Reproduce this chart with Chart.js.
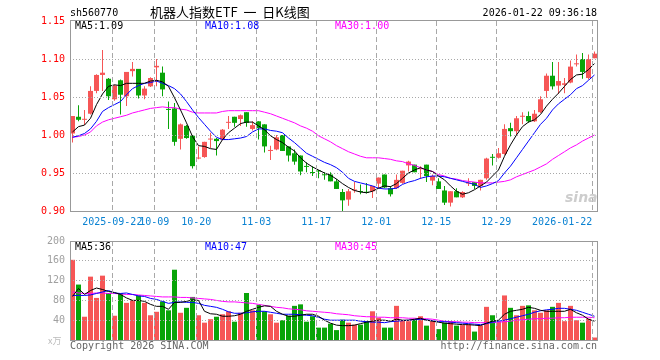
<!DOCTYPE html>
<html><head><meta charset="utf-8">
<script src="https://cdn.jsdelivr.net/npm/chart.js@4.4.1/dist/chart.umd.min.js"></script>
<style>
html,body{margin:0;padding:0;background:#fff;}
#wrap{position:relative;width:660px;height:360px;overflow:hidden;font-family:"DejaVu Sans Mono",monospace;font-size:10px;}
canvas{position:absolute;left:0;}
.t{position:absolute;white-space:nowrap;line-height:12px;}
</style></head><body>
<div id="wrap">
<canvas id="k" width="660" height="240" style="top:0"></canvas>
<canvas id="v" width="660" height="130" style="top:230px"></canvas>
<div class="t" style="left:70px;top:7px;color:#000">sh560770</div>
<div class="t" style="left:150px;top:4px;font-family:'Noto Sans CJK SC',sans-serif;font-size:13px;line-height:15px;color:#000">机器人指数ETF&nbsp;&nbsp;一&nbsp;&nbsp;日K线图</div>
<div class="t" style="right:63px;top:7px;color:#000">2026-01-22 09:36:18</div>
<div class="t" id="kma5" style="left:75px;top:20px;color:#000"></div>
<div class="t" id="kma10" style="left:205px;top:20px;color:#0000ff"></div>
<div class="t" id="kma30" style="left:335px;top:20px;color:#ff00ff"></div>
<div class="t" id="vma5" style="left:75px;top:241px;color:#000"></div>
<div class="t" id="vma10" style="left:205px;top:241px;color:#0000ff"></div>
<div class="t" id="vma30" style="left:335px;top:241px;color:#ff00ff"></div>
<div class="t" style="left:48px;top:335px;color:#bbb;font-size:9px;font-family:'Noto Sans CJK SC',sans-serif">x万</div>
<div class="t" style="left:70px;top:340px;color:#666">Copyright 2026 SINA.COM</div>
<div class="t" style="right:63px;top:340px;color:#666">http://finance.sina.com.cn</div>
<div class="t" style="left:565px;top:189px;color:#cdcdcd;font-family:'DejaVu Sans',sans-serif;font-style:italic;font-weight:bold;font-size:14px;line-height:16px">sina</div>
</div>
<script>
// ---- data ----
const dates = ['2025-09-11','2025-09-12','2025-09-15','2025-09-16','2025-09-17','2025-09-18','2025-09-19','2025-09-22','2025-09-23','2025-09-24','2025-09-25','2025-09-26','2025-09-29','2025-09-30',
'2025-10-09','2025-10-10','2025-10-13','2025-10-14','2025-10-15','2025-10-16','2025-10-17','2025-10-20','2025-10-21','2025-10-22','2025-10-23','2025-10-24','2025-10-27','2025-10-28','2025-10-29','2025-10-30','2025-10-31',
'2025-11-03','2025-11-04','2025-11-05','2025-11-06','2025-11-07','2025-11-10','2025-11-11','2025-11-12','2025-11-13','2025-11-14','2025-11-17','2025-11-18','2025-11-19','2025-11-20','2025-11-21','2025-11-24','2025-11-25','2025-11-26','2025-11-27','2025-11-28',
'2025-12-01','2025-12-02','2025-12-03','2025-12-04','2025-12-05','2025-12-08','2025-12-09','2025-12-10','2025-12-11','2025-12-12','2025-12-15','2025-12-16','2025-12-17','2025-12-18','2025-12-19','2025-12-22','2025-12-23','2025-12-24','2025-12-25','2025-12-26','2025-12-29','2025-12-30','2025-12-31',
'2026-01-05','2026-01-06','2026-01-07','2026-01-08','2026-01-09','2026-01-12','2026-01-13','2026-01-14','2026-01-15','2026-01-16','2026-01-19','2026-01-20','2026-01-21','2026-01-22'];

const open  = [1.002,1.024,1.020,1.028,1.058,1.079,1.074,1.047,1.072,1.051,1.084,1.087,1.052,1.064,1.089,1.082,1.034,1.035,0.995,1.012,0.999,0.969,0.971,0.994,0.995,
0.994,1.016,1.024,1.021,1.030,1.008,1.018,1.014,0.979,0.981,1.000,0.985,0.976,0.973,0.959,0.951,0.953,0.948,0.948,0.939,0.925,0.915,0.927,0.926,0.925,0.926,0.936,0.948,0.930,0.930,0.937,0.960,0.961,0.955,0.961,0.940,0.939,
0.927,0.911,0.926,0.918,0.936,0.938,0.933,0.943,0.971,0.970,0.975,1.009,1.005,1.024,1.025,1.018,1.030,1.058,1.078,1.065,1.066,1.069,1.093,1.100,1.075,1.101];
const high  = [1.025,1.039,1.033,1.064,1.080,1.112,1.075,1.066,1.073,1.083,1.096,1.087,1.064,1.076,1.100,1.090,1.044,1.042,1.015,1.013,1.000,0.985,0.991,1.003,0.996,
1.008,1.025,1.024,1.027,1.030,1.018,1.018,1.014,0.986,1.000,1.000,0.985,0.981,0.973,0.964,0.959,0.954,0.951,0.951,0.942,0.929,0.929,0.938,0.935,0.937,0.933,0.944,0.948,0.933,0.948,0.953,0.966,0.961,0.959,0.961,0.948,0.943,
0.933,0.926,0.930,0.926,0.943,0.938,0.941,0.970,0.975,0.983,1.014,1.016,1.025,1.030,1.031,1.033,1.051,1.081,1.096,1.096,1.075,1.098,1.106,1.108,1.106,1.110];
const low   = [0.990,1.018,1.013,1.027,1.055,1.058,1.046,1.045,1.027,1.038,1.077,1.048,1.047,1.063,1.064,1.051,1.008,0.986,0.981,0.995,0.956,0.968,0.970,0.983,0.973,
0.993,1.008,1.011,1.012,1.011,1.006,0.994,0.977,0.967,0.980,0.979,0.965,0.961,0.947,0.951,0.946,0.943,0.941,0.939,0.929,0.900,0.907,0.924,0.922,0.923,0.917,0.930,0.930,0.919,0.929,0.936,0.952,0.951,0.942,0.938,0.934,0.929,
0.908,0.906,0.918,0.917,0.933,0.929,0.927,0.941,0.960,0.969,0.974,0.998,1.000,1.014,1.016,1.017,1.029,1.049,1.060,1.054,1.055,1.068,1.090,1.074,1.073,1.101];
const close = [1.025,1.020,1.021,1.058,1.079,1.082,1.051,1.065,1.053,1.083,1.087,1.052,1.061,1.075,1.091,1.060,1.033,0.991,1.014,0.996,0.959,0.970,0.991,0.995,0.992,
1.007,1.017,1.016,1.026,1.016,1.013,1.009,0.985,0.980,0.997,0.979,0.973,0.965,0.952,0.958,0.950,0.952,0.947,0.939,0.929,0.914,0.926,0.928,0.925,0.924,0.933,0.944,0.931,0.922,0.941,0.953,0.965,0.951,0.956,0.946,0.946,0.929,
0.911,0.926,0.918,0.925,0.937,0.933,0.941,0.969,0.970,0.976,1.008,1.005,1.022,1.025,1.018,1.028,1.047,1.078,1.064,1.071,1.068,1.090,1.094,1.083,1.100,1.107];

const ma5  = [1.004,1.011,1.013,1.022,1.040,1.054,1.064,1.066,1.065,1.068,1.068,1.068,1.068,1.071,1.072,1.070,1.064,1.049,1.033,1.016,0.998,0.986,0.985,0.982,0.981,
0.994,1.003,1.009,1.015,1.017,1.017,1.012,1.007,0.999,0.994,0.990,0.984,0.979,0.970,0.963,0.958,0.954,0.950,0.947,0.942,0.936,0.931,0.927,0.925,0.924,0.926,0.930,0.933,0.932,0.936,0.943,0.950,0.954,0.957,0.954,0.952,0.946,
0.941,0.933,0.926,0.922,0.924,0.928,0.933,0.938,0.946,0.954,0.972,0.987,1.000,1.011,1.017,1.020,1.027,1.038,1.047,1.055,1.064,1.073,1.079,1.080,1.086,1.094];
const ma10 = [0.997,0.999,1.002,1.008,1.018,1.031,1.036,1.040,1.044,1.053,1.061,1.065,1.068,1.069,1.071,1.068,1.065,1.061,1.054,1.044,1.033,1.023,1.014,1.005,0.997,
0.994,0.994,0.995,0.996,0.998,1.004,1.008,1.008,1.006,1.005,1.003,0.996,0.990,0.983,0.976,0.972,0.968,0.964,0.961,0.957,0.951,0.943,0.939,0.937,0.935,0.933,0.930,0.929,0.929,0.930,0.935,0.938,0.940,0.943,0.945,0.946,0.946,
0.945,0.943,0.941,0.939,0.937,0.935,0.931,0.933,0.936,0.940,0.950,0.959,0.970,0.981,0.992,1.003,1.014,1.022,1.033,1.041,1.047,1.053,1.061,1.065,1.072,1.079];
const ma30 = [0.997,0.998,1.000,1.004,1.012,1.017,1.020,1.022,1.024,1.026,1.029,1.031,1.033,1.035,1.036,1.037,1.036,1.036,1.034,1.033,1.030,1.029,1.029,1.029,1.029,
1.031,1.032,1.032,1.032,1.032,1.032,1.032,1.030,1.028,1.025,1.022,1.019,1.016,1.012,1.009,1.005,0.999,0.995,0.991,0.986,0.982,0.978,0.975,0.972,0.970,0.970,0.970,0.969,0.968,0.966,0.965,0.962,0.960,0.957,0.954,0.952,0.948,
0.946,0.943,0.942,0.940,0.939,0.938,0.937,0.937,0.937,0.938,0.939,0.941,0.945,0.948,0.951,0.954,0.958,0.962,0.968,0.973,0.978,0.983,0.987,0.992,0.996,1.000];

const volume = [162,112,47,128,85,130,95,49,95,75,81,90,75,50,57,78,60,142,55,65,87,50,35,42,47,
52,58,37,55,95,60,71,58,52,35,40,49,69,72,37,48,25,25,33,20,41,35,31,31,38,58,45,25,25,69,40,38,41,48,29,38,22,
35,38,29,30,31,17,29,67,50,37,90,65,50,69,70,60,55,60,67,75,38,69,40,35,43,5];
const vma5  = [88,104,92,100,105,102,98,96,92,85,80,80,78,72,68,68,62,76,76,78,81,80,58,53,52,
48,48,49,52,58,62,66,69,68,58,52,48,48,50,52,52,48,40,34,30,29,29,30,33,36,38,40,40,38,42,40,40,42,44,40,38,36,
34,33,32,31,31,30,29,34,38,40,52,58,60,62,66,64,60,58,58,58,58,62,55,50,42,38];
const vma10 = [90,90,90,91,94,97,100,95,94,95,92,89,88,84,82,78,74,76,77,76,76,74,70,68,66,
62,57,54,54,55,57,58,58,56,54,52,52,52,51,50,49,46,42,40,40,40,40,40,38,37,36,36,35,37,38,39,40,41,42,41,39,37,
37,36,35,34,33,32,31,33,36,38,40,43,46,49,52,56,59,61,62,64,64,62,60,56,52,48];
const vma30 = [97,95,94,94,95,95,94,94,93,92,92,91,90,89,88,87,87,87,86,86,85,84,83,82,80,
78,77,77,76,75,74,72,70,68,66,65,63,62,61,59,58,57,56,55,53,52,51,49,48,47,47,46,46,45,45,45,44,44,43,43,42,40,
38,37,37,36,36,35,35,35,35,36,37,38,40,41,42,43,43,44,44,45,45,46,46,46,46,45];

const tickDates  = ['2025-09-22','2025-10-09','2025-10-20','2025-11-03','2025-11-17','2025-12-01','2025-12-15','2025-12-29','2026-01-22'];
const tickLabels = ['2025-09-22','10-09','10-20','11-03','11-17','12-01','12-15','12-29','2026-01-22'];
const priceTicks = [0.90,0.95,1.00,1.05,1.10,1.15];
const volTicks   = [0,40,80,120,160,200];
const maLabels = {k5:'MA5:1.09', k10:'MA10:1.08', k30:'MA30:1.00', v5:'MA5:36', v10:'MA10:47', v30:'MA30:45'};

// ---- setup ----
const UP = '#f65656', DOWN = '#08a408', GRID = '#a8a8a8';
const X_MIN = -0.4167, X_MAX = 87.4167, GRID_SHIFT = 0.367;
const xTickVals = [X_MIN].concat(tickDates.map(d => dates.indexOf(d) - GRID_SHIFT));
const xTickText = [''].concat(tickLabels);
const up = close.map((c, i) => c >= open[i]);
const pts = arr => arr.map((v, i) => ({x: i, y: v}));

Chart.defaults.font.family = 'DejaVu Sans Mono';
Chart.defaults.font.size = 10;
Chart.defaults.animation = false;

document.getElementById('kma5').textContent = maLabels.k5;
document.getElementById('kma10').textContent = maLabels.k10;
document.getElementById('kma30').textContent = maLabels.k30;
document.getElementById('vma5').textContent = maLabels.v5;
document.getElementById('vma10').textContent = maLabels.v10;
document.getElementById('vma30').textContent = maLabels.v30;

// grid lines at the scales' own ticks
function drawGridLines(chart) {
  const a = chart.chartArea, c = chart.ctx, sx = chart.scales.x, sy = chart.scales.y;
  c.save(); c.strokeStyle = GRID; c.lineWidth = 1;
  c.setLineDash([5, 3]);
  sx.ticks.forEach((t, i) => {
    if (i === 0) return;
    const x = Math.round(sx.getPixelForValue(t.value) - 0.5) + 0.5;
    c.beginPath(); c.moveTo(x, a.top); c.lineTo(x, a.bottom); c.stroke();
  });
  c.setLineDash([1, 2]);
  sy.ticks.forEach((t, i) => {
    if (i === 0 || i === sy.ticks.length - 1) return;
    const y = Math.round(sy.getPixelForValue(t.value) - 0.5) + 0.5;
    c.beginPath(); c.moveTo(a.left, y); c.lineTo(a.right, y); c.stroke();
  });
  c.restore();
}
const gridLines = { id: 'gridLines', afterDraw(chart) { drawGridLines(chart); } };
const frame = {
  id: 'frame',
  afterDraw(chart, args, opts) {
    const a = chart.chartArea, c = chart.ctx, s = opts.topShift || 0;
    c.save(); c.setLineDash([]); c.strokeStyle = '#999'; c.lineWidth = 1;
    c.strokeRect(a.left + 0.5, a.top - s + 0.5, a.right - a.left, a.bottom - a.top + s);
    c.restore();
  }
};

function xScale(showLabels, h) {
  return {
    type: 'linear', min: X_MIN, max: X_MAX, offset: false,
    afterBuildTicks: s => { s.ticks = xTickVals.map(v => ({value: v})); },
    afterFit: s => { s.height = h; },
    ticks: { display: showLabels, autoSkip: false, maxRotation: 0, minRotation: 0, align: 'inner', padding: 5,
      color: '#0a82d2', callback: (v, i) => xTickText[i] },
    grid: { display: false, offset: false, drawTicks: false },
    border: { display: false }
  };
}
function yScale(tickArr, min, max, color, fmt) {
  return {
    min: min, max: max,
    afterBuildTicks: s => { s.ticks = tickArr.map(v => ({value: v})); },
    afterFit: s => { s.width = 70; },
    ticks: { color: color, padding: 5, callback: fmt },
    grid: { display: false, drawTicks: false },
    border: { display: false }
  };
}
function lineDs(arr, color) {
  return { type: 'line', data: pts(arr), borderColor: color, borderWidth: 1, pointRadius: 0, tension: 0, order: 0, fill: false };
}

new Chart(document.getElementById('k'), {
  type: 'bar',
  data: { datasets: [
    lineDs(ma5, '#000000'), lineDs(ma10, '#0000ff'), lineDs(ma30, '#ff00ff'),
    { type: 'bar', data: open.map((o, i) => ({x: i, y: [o, close[i]]})), backgroundColor: up.map(u => u ? UP : DOWN),
      barThickness: 5, grouped: false, minBarLength: 1, inflateAmount: 0, borderWidth: 0, order: 1 },
    { type: 'bar', data: low.map((l, i) => ({x: i, y: [l, high[i]]})), backgroundColor: up.map(u => u ? UP : DOWN),
      barThickness: 1, grouped: false, minBarLength: 1, inflateAmount: 0, borderWidth: 0, order: 2 }
  ]},
  options: {
    responsive: false, devicePixelRatio: 1, animation: false,
    layout: { padding: { left: 0, right: 63, top: 21, bottom: 0 } },
    plugins: { legend: { display: false }, tooltip: { enabled: false }, frame: { topShift: 1 } },
    scales: {
      x: xScale(true, 29),
      y: yScale(priceTicks, 0.90, 1.1500001, '#ff0000', v => v.toFixed(2))
    }
  },
  plugins: [gridLines, frame]
});

new Chart(document.getElementById('v'), {
  type: 'bar',
  data: { datasets: [
    lineDs(vma5, '#000000'), lineDs(vma10, '#0000ff'), lineDs(vma30, '#ff00ff'),
    { type: 'bar', data: volume.map((v, i) => ({x: i, y: [0, v]})), backgroundColor: up.map(u => u ? UP : DOWN),
      barThickness: 5, grouped: false, inflateAmount: 0, borderWidth: 0, order: 1 }
  ]},
  options: {
    responsive: false, devicePixelRatio: 1, animation: false,
    layout: { padding: { left: 0, right: 63, top: 10, bottom: 0 } },
    plugins: { legend: { display: false }, tooltip: { enabled: false }, frame: { topShift: 0 } },
    scales: {
      x: xScale(false, 20),
      y: yScale(volTicks, 0, 200, '#a0a0a0', v => v === 0 ? '' : String(v))
    }
  },
  plugins: [gridLines, frame]
});
</script>
</body></html>
